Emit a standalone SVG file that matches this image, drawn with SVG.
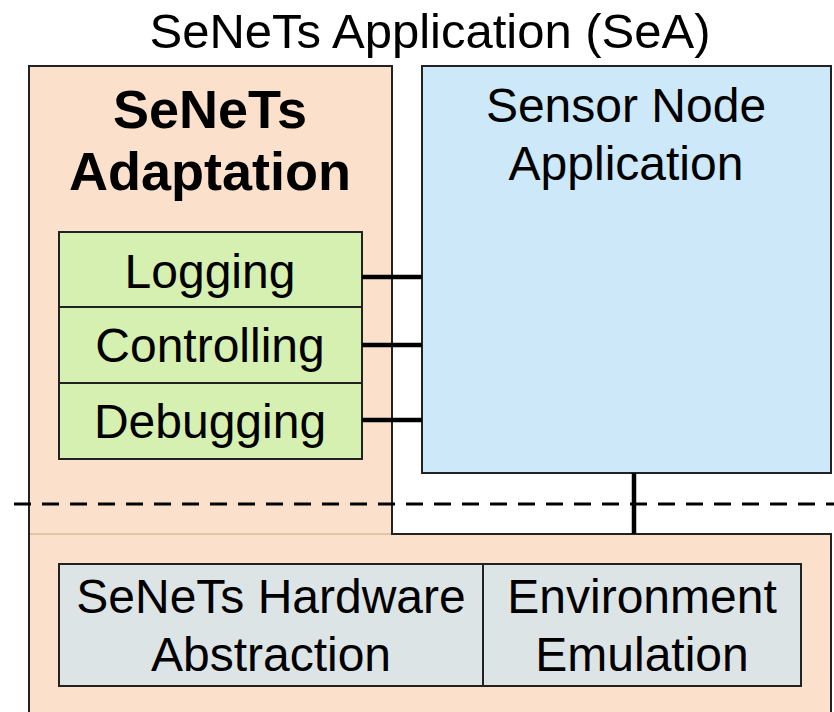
<svg xmlns="http://www.w3.org/2000/svg" width="834" height="712" viewBox="0 0 834 712">
<style>
text{font-family:"Liberation Sans",Arial,sans-serif;font-size:48px;fill:#000;text-anchor:middle}
.t{font-size:49px}
.b{font-weight:bold;font-size:54px}
.box{stroke:#222;stroke-width:2}
.conn{stroke:#000;stroke-width:4.5;fill:none}
</style>
<rect width="834" height="712" fill="#fff"/>
<g id="sea">
<path d="M29,714 L29,66 L392,66 L392,534 L831,534 L831,714" fill="#FBE0CB" stroke="#222" stroke-width="2"/>
<line x1="30" y1="534" x2="391" y2="534" stroke="#D9BE9A" stroke-width="1.5"/>
<text class="t" x="430" y="48">SeNeTs Application (SeA)</text>
</g>
<g id="adaptation">
<text class="b" x="210" y="128">SeNeTs</text>
<text class="b" x="210" y="190">Adaptation</text>
</g>
<g id="sensor-node-app">
<rect class="box" x="422" y="66" width="409" height="407" fill="#CCE8F9"/>
<text x="626" y="122">Sensor Node</text>
<text x="626" y="180">Application</text>
</g>
<g id="logging">
<rect class="box" x="59" y="232" width="303" height="75" fill="#D5F0B1"/>
<text x="210" y="288">Logging</text>
</g>
<g id="controlling">
<rect class="box" x="59" y="307" width="303" height="76" fill="#D5F0B1"/>
<text x="210" y="362">Controlling</text>
</g>
<g id="debugging">
<rect class="box" x="59" y="383" width="303" height="76" fill="#D5F0B1"/>
<text x="210" y="438">Debugging</text>
</g>
<g id="hw-abstraction">
<rect class="box" x="59" y="564" width="424" height="122" fill="#DDE4E6"/>
<text x="271" y="613">SeNeTs Hardware</text>
<text x="271" y="671">Abstraction</text>
</g>
<g id="env-emulation">
<rect class="box" x="483" y="564" width="318" height="122" fill="#DDE4E6"/>
<text x="642" y="613">Environment</text>
<text x="642" y="671">Emulation</text>
</g>
<g id="connectors">
<line class="conn" x1="362" y1="277" x2="422" y2="277"/>
<line class="conn" x1="362" y1="345" x2="422" y2="345"/>
<line class="conn" x1="362" y1="420" x2="422" y2="420"/>
<line class="conn" x1="634" y1="473" x2="634" y2="534"/>
<line x1="14" y1="504" x2="834" y2="504" stroke="#000" stroke-width="3" stroke-dasharray="17 11"/>
</g>
</svg>
